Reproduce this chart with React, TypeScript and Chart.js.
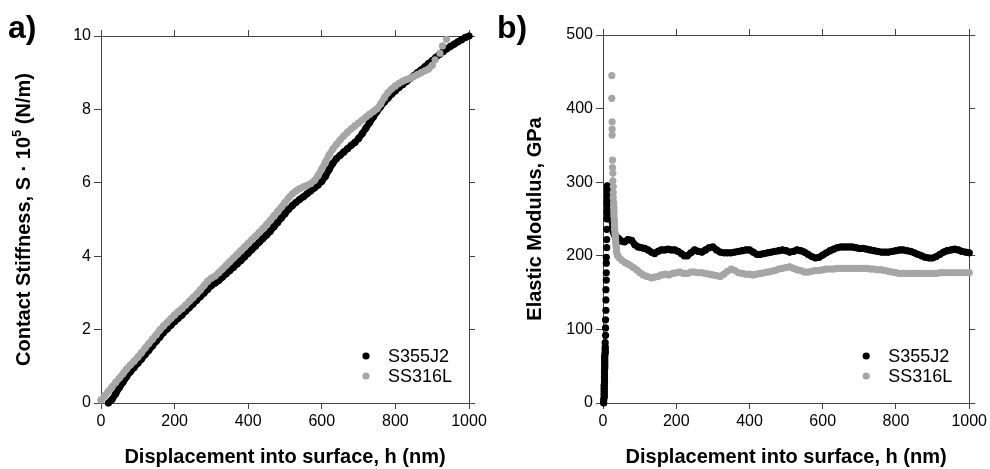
import React, { useEffect, useRef } from "react";
import { Chart, registerables } from "chart.js";

Chart.register(...registerables);

// ---------- tick labels ----------
const xTicks = [0, 200, 400, 600, 800, 1000];
const yTicksA = [0, 2, 4, 6, 8, 10];
const yTicksB = [0, 100, 200, 300, 400, 500];

const seriesNames = ["S355J2", "SS316L"];
const seriesColors = ["#000000", "#a6a6a6"];

// ---------- panel a: contact stiffness (x 10^5 N/m) ----------
const hA_S355J2 = [20, 30, 40, 50, 60, 70, 80, 90, 100, 110, 120, 130, 140, 150, 160, 170, 180, 190, 200, 210, 220, 230, 240, 250, 260, 270, 280, 290, 300, 310, 320, 330, 340, 350, 360, 370, 380, 390, 400, 410, 420, 430, 440, 450, 460, 470, 480, 490, 500, 510, 520, 530, 540, 550, 560, 570, 580, 590, 600, 610, 620, 630, 640, 650, 660, 670, 680, 690, 700, 710, 720, 730, 740, 750, 760, 770, 780, 790, 800, 810, 820, 830, 840, 850, 860, 870, 880, 890, 900, 910, 920, 930, 940, 950, 960, 970, 980, 990, 1000];
const sA_S355J2 = [0.0, 0.1, 0.25, 0.42, 0.57, 0.72, 0.85, 0.97, 1.08, 1.2, 1.32, 1.44, 1.56, 1.68, 1.8, 1.92, 2.02, 2.12, 2.22, 2.31, 2.4, 2.5, 2.6, 2.7, 2.8, 2.9, 3.0, 3.1, 3.2, 3.27, 3.34, 3.43, 3.52, 3.61, 3.7, 3.79, 3.88, 3.98, 4.08, 4.18, 4.28, 4.38, 4.48, 4.58, 4.68, 4.8, 4.92, 5.04, 5.16, 5.28, 5.38, 5.47, 5.55, 5.62, 5.7, 5.78, 5.86, 5.94, 6.04, 6.18, 6.36, 6.53, 6.66, 6.75, 6.84, 6.93, 7.02, 7.1, 7.21, 7.34, 7.49, 7.64, 7.79, 7.94, 8.08, 8.2, 8.31, 8.42, 8.51, 8.6, 8.68, 8.76, 8.84, 8.92, 9.0, 9.08, 9.16, 9.25, 9.33, 9.42, 9.5, 9.58, 9.65, 9.72, 9.78, 9.84, 9.9, 9.96, 10.0];

const hA_SS316L = [0, 10, 20, 30, 40, 50, 60, 70, 80, 90, 100, 110, 120, 130, 140, 150, 160, 170, 180, 190, 200, 210, 220, 230, 240, 250, 260, 270, 280, 290, 300, 310, 320, 330, 340, 350, 360, 370, 380, 390, 400, 410, 420, 430, 440, 450, 460, 470, 480, 490, 500, 510, 520, 530, 540, 550, 560, 570, 580, 590, 600, 610, 620, 630, 640, 650, 660, 670, 680, 690, 700, 710, 720, 730, 740, 750, 760, 770, 780, 790, 800, 810, 820, 830, 840, 850, 860, 870, 880, 890, 900, 908, 921, 928, 939];
const sA_SS316L = [0.08, 0.2, 0.32, 0.44, 0.56, 0.68, 0.8, 0.93, 1.04, 1.14, 1.25, 1.37, 1.5, 1.62, 1.74, 1.86, 1.99, 2.1, 2.2, 2.3, 2.4, 2.49, 2.57, 2.67, 2.77, 2.87, 2.97, 3.08, 3.2, 3.32, 3.4, 3.46, 3.55, 3.65, 3.75, 3.85, 3.95, 4.05, 4.15, 4.25, 4.35, 4.45, 4.55, 4.65, 4.75, 4.86, 4.98, 5.1, 5.22, 5.34, 5.47, 5.59, 5.7, 5.78, 5.84, 5.89, 5.93, 5.98, 6.06, 6.2, 6.38, 6.57, 6.76, 6.92, 7.05, 7.17, 7.28, 7.38, 7.47, 7.55, 7.63, 7.71, 7.79, 7.87, 7.94, 8.02, 8.15, 8.32, 8.46, 8.56, 8.64, 8.71, 8.77, 8.81, 8.85, 8.9, 8.95, 9.0, 9.05, 9.1, 9.2, 9.35, 9.53, 9.73, 9.91];

// ---------- panel b: elastic modulus (GPa) ----------
const hB_S355J2 = [2, 2, 3, 3, 3, 3, 3, 4, 4, 4, 4, 4, 5, 5, 5, 5, 5, 6, 6, 6, 6, 7, 7, 7, 8, 8, 8, 9, 9, 9, 9, 10, 10, 10, 11, 11, 11, 12, 12, 12, 14, 16, 17, 19, 21, 22, 24, 26, 28, 32, 36, 41, 45, 50, 59, 68, 78, 87, 96, 105, 114, 123, 132, 141, 150, 159, 168, 177, 186, 196, 205, 214, 222, 230, 240, 250, 260, 270, 280, 290, 300, 310, 320, 330, 340, 350, 360, 370, 380, 390, 400, 410, 420, 430, 440, 450, 460, 470, 480, 490, 500, 510, 520, 530, 540, 550, 560, 570, 580, 590, 600, 610, 620, 630, 640, 650, 660, 670, 680, 690, 700, 710, 720, 730, 740, 750, 760, 770, 780, 790, 800, 810, 820, 830, 840, 850, 860, 870, 880, 890, 900, 910, 920, 930, 940, 950, 960, 970, 980, 990, 1000];
const eB_S355J2 = [0, 4, 8, 12, 16, 20, 24, 28, 32, 36, 40, 44, 48, 52, 56, 60, 64, 68, 72, 76, 82, 92, 102, 113, 126, 140, 154, 167, 177, 190, 198, 211, 222, 236, 250, 260, 272, 282, 290, 295, 292, 286, 278, 270, 262, 254, 248, 240, 232, 228, 226, 224, 222, 220, 219, 222, 221, 215, 212, 211, 210, 208, 205, 203, 206, 208, 208, 209, 208, 208, 206, 203, 200, 200, 204, 208, 206, 205, 208, 211, 212, 208, 205, 204, 204, 204, 205, 206, 207, 208, 208, 205, 202, 202, 203, 204, 205, 206, 207, 208, 207, 205, 206, 208, 207, 205, 202, 199, 197, 198, 201, 204, 207, 209, 211, 212, 212, 212, 212, 211, 210, 210, 209, 208, 207, 206, 205, 205, 205, 206, 207, 208, 208, 207, 206, 204, 202, 200, 198, 197, 197, 199, 202, 205, 207, 208, 209, 208, 206, 205, 204];

const hB_SS316L = [24, 24, 25, 25, 25, 26, 26, 27, 27, 28, 28, 28, 29, 29, 30, 30, 31, 31, 32, 33, 34, 35, 36, 37, 38, 40, 45, 51, 60, 67, 74, 83, 92, 101, 110, 120, 132, 140, 150, 160, 170, 180, 190, 200, 210, 220, 230, 240, 250, 260, 270, 280, 290, 300, 310, 320, 330, 340, 350, 360, 370, 380, 390, 400, 410, 420, 430, 440, 450, 460, 470, 480, 490, 500, 510, 520, 530, 540, 550, 560, 570, 580, 590, 600, 610, 620, 630, 640, 650, 660, 670, 680, 690, 700, 710, 720, 730, 740, 750, 760, 770, 780, 790, 800, 810, 820, 830, 840, 850, 860, 870, 880, 890, 900, 910, 920, 930, 940, 950, 960, 970, 980, 990, 1000];
const eB_SS316L = [445, 414, 382, 372, 364, 330, 320, 312, 302, 294, 286, 279, 272, 266, 260, 254, 248, 242, 236, 230, 224, 218, 212, 207, 203, 200, 197, 194, 191, 189, 187, 184, 181, 177, 174, 172, 170, 171, 172, 174, 175, 174, 176, 177, 178, 176, 176, 178, 178, 177, 177, 176, 175, 174, 173, 172, 175, 179, 182, 180, 177, 176, 175, 175, 174, 175, 176, 177, 178, 179, 180, 182, 183, 184, 185, 183, 181, 180, 178, 178, 179, 180, 180, 181, 182, 182, 182, 183, 183, 183, 183, 183, 183, 183, 183, 183, 182, 182, 181, 181, 180, 179, 178, 177, 176, 176, 176, 176, 176, 176, 176, 176, 176, 176, 176, 177, 177, 177, 177, 177, 177, 177, 177, 177];

const FONT = '"Liberation Sans", Arial, sans-serif';
const AXIS_COLOR = "#444444";

type Series = { h: number[]; v: number[]; gap: (i: number) => boolean };

type PanelSpec = {
  panelLabel: string;
  labelX: number;
  xTitle: string;
  yTitle: string | null;
  yTitleParts: { text: string; size: number; raise: number }[] | null;
  yTitleX: number;
  yTitlePad: number;
  yTicks: number[];
  yMax: number;
  leftW: number;
  rightW: number;
  topH: number;
  bottomH: number;
  series: Series[];
};

function makeOverlay(spec: PanelSpec) {
  return {
    id: "overlay" + spec.panelLabel,
    afterDraw(chart: any) {
      const ctx = chart.ctx as CanvasRenderingContext2D;
      const ca = chart.chartArea;
      ctx.save();
      // panel label
      ctx.fillStyle = "#000";
      ctx.font = `bold 32px ${FONT}`;
      ctx.textAlign = "left";
      ctx.textBaseline = "alphabetic";
      ctx.fillText(spec.panelLabel, spec.labelX, 38);
      // legend inside plot
      ctx.font = `18px ${FONT}`;
      ctx.textBaseline = "middle";
      seriesNames.forEach((name, i) => {
        const y = ca.bottom - 47 + i * 20;
        ctx.beginPath();
        ctx.fillStyle = seriesColors[i];
        ctx.arc(ca.right - 103, y, 3.6, 0, Math.PI * 2);
        ctx.fill();
        ctx.fillStyle = "#000";
        ctx.fillText(name, ca.right - 81, y + 1);
      });
      // custom y title with superscript
      if (spec.yTitleParts) {
        const cy = (ca.top + ca.bottom) / 2;
        ctx.translate(spec.yTitleX, cy);
        ctx.rotate(-Math.PI / 2);
        let total = 0;
        const widths = spec.yTitleParts.map((p) => {
          ctx.font = `bold ${p.size}px ${FONT}`;
          const w = ctx.measureText(p.text).width;
          total += w;
          return w;
        });
        let x = -total / 2;
        ctx.fillStyle = "#000";
        ctx.textAlign = "left";
        ctx.textBaseline = "middle";
        spec.yTitleParts.forEach((p, i) => {
          ctx.font = `bold ${p.size}px ${FONT}`;
          ctx.fillText(p.text, x, -p.raise);
          x += widths[i];
        });
      }
      ctx.restore();
    },
  };
}

function gridOpts(tickLength: number) {
  return {
    display: true,
    drawOnChartArea: false,
    drawTicks: true,
    tickLength,
    color: AXIS_COLOR,
    lineWidth: 1,
  };
}
const borderOpts = { display: true, color: AXIS_COLOR, width: 1 };

function makeConfig(spec: PanelSpec): any {
  const tickFont = { family: FONT, size: 16 };
  const titleFont = { family: FONT, size: 20, weight: "bold" as const };
  const plain = (v: any) => String(v);
  return {
    type: "scatter",
    data: {
      datasets: spec.series.map((s, i) => ({
        label: seriesNames[i],
        data: s.h.map((x, k) => ({ x, y: s.v[k] })),
        backgroundColor: seriesColors[i],
        borderColor: seriesColors[i],
        showLine: true,
        borderWidth: 6.6,
        borderJoinStyle: "round",
        borderCapStyle: "round",
        tension: 0,
        segment: {
          borderColor: (ctx: any) => (s.gap(ctx.p0DataIndex) ? "rgba(0,0,0,0)" : undefined),
        },
        pointRadius: 3.6,
        pointBorderWidth: 0,
        pointHoverRadius: 3.6,
        clip: false,
        order: i === 0 ? 2 : 1,
      })),
    },
    options: {
      animation: false,
      responsive: false,
      maintainAspectRatio: false,
      events: [],
      layout: { padding: 0 },
      plugins: { legend: { display: false }, tooltip: { enabled: false } },
      scales: {
        x: {
          type: "linear",
          position: "bottom",
          min: 0,
          max: 1000,
          afterBuildTicks: (s: any) => {
            s.ticks = xTicks.map((v) => ({ value: v }));
          },
          grid: gridOpts(6),
          border: borderOpts,
          ticks: { font: tickFont, color: "#000", padding: 3, maxRotation: 0, autoSkip: false, callback: plain },
          title: { display: true, text: spec.xTitle, font: titleFont, color: "#000", padding: { top: 0, bottom: 0 } },
          afterFit: (s: any) => {
            s.height = spec.bottomH;
          },
        },
        x2: {
          type: "linear",
          position: "top",
          min: 0,
          max: 1000,
          afterBuildTicks: (s: any) => {
            s.ticks = xTicks.map((v) => ({ value: v }));
          },
          grid: gridOpts(6),
          border: borderOpts,
          ticks: { display: false },
          afterFit: (s: any) => {
            s.height = spec.topH;
          },
        },
        y: {
          type: "linear",
          position: "left",
          min: 0,
          max: spec.yMax,
          afterBuildTicks: (s: any) => {
            s.ticks = spec.yTicks.map((v) => ({ value: v }));
          },
          grid: gridOpts(7),
          border: borderOpts,
          ticks: { font: tickFont, color: "#000", padding: 3, autoSkip: false, callback: plain },
          title: {
            display: !!spec.yTitle,
            text: spec.yTitle || "",
            font: titleFont,
            color: "#000",
            padding: { top: spec.yTitlePad, bottom: 0 },
          },
          afterFit: (s: any) => {
            s.width = spec.leftW;
          },
        },
        y2: {
          type: "linear",
          position: "right",
          min: 0,
          max: spec.yMax,
          afterBuildTicks: (s: any) => {
            s.ticks = spec.yTicks.map((v) => ({ value: v }));
          },
          grid: gridOpts(6),
          border: borderOpts,
          ticks: { display: false },
          afterFit: (s: any) => {
            s.width = spec.rightW;
          },
        },
      },
    },
    plugins: [makeOverlay(spec)],
  };
}

const specA: PanelSpec = {
  panelLabel: "a)",
  labelX: 8,
  xTitle: "Displacement into surface, h (nm)",
  yTitle: null,
  yTitleParts: [
    { text: "Contact Stiffness, S \u00b7 10", size: 20, raise: 0 },
    { text: "5", size: 13, raise: 7 },
    { text: " (N/m)", size: 20, raise: 0 },
  ],
  yTitleX: 24,
  yTitlePad: 0,
  yTicks: yTicksA,
  yMax: 10,
  leftW: 101,
  rightW: 21,
  topH: 36,
  bottomH: 66,
  series: [
    { h: hA_S355J2, v: sA_S355J2, gap: () => false },
    { h: hA_SS316L, v: sA_SS316L, gap: (i) => i >= 90 },
  ],
};

const specB: PanelSpec = {
  panelLabel: "b)",
  labelX: 7,
  xTitle: "Displacement into surface, h (nm)",
  yTitle: "Elastic Modulus, GPa",
  yTitleParts: null,
  yTitleX: 0,
  yTitlePad: 33,
  yTicks: yTicksB,
  yMax: 500,
  leftW: 113,
  rightW: 19,
  topH: 35,
  bottomH: 66,
  series: [
    { h: hB_S355J2, v: eB_S355J2, gap: (i) => i >= 19 && i < 34 },
    { h: hB_SS316L, v: eB_SS316L, gap: (i) => i < 12 },
  ],
};

function Panel({ spec, left, width }: { spec: PanelSpec; left: number; width: number }) {
  const ref = useRef<HTMLCanvasElement | null>(null);
  useEffect(() => {
    if (!ref.current) return;
    const chart = new Chart(ref.current, makeConfig(spec));
    return () => chart.destroy();
  }, [spec]);
  return (
    <canvas
      ref={ref}
      width={width}
      height={469}
      style={{ position: "absolute", left, top: 0, width, height: 469 }}
    />
  );
}

export default function App() {
  return (
    <div style={{ position: "absolute", left: 0, top: 0, width: 990, height: 469, background: "#fff" }}>
      <Panel spec={specA} left={0} width={490} />
      <Panel spec={specB} left={490} width={500} />
    </div>
  );
}
